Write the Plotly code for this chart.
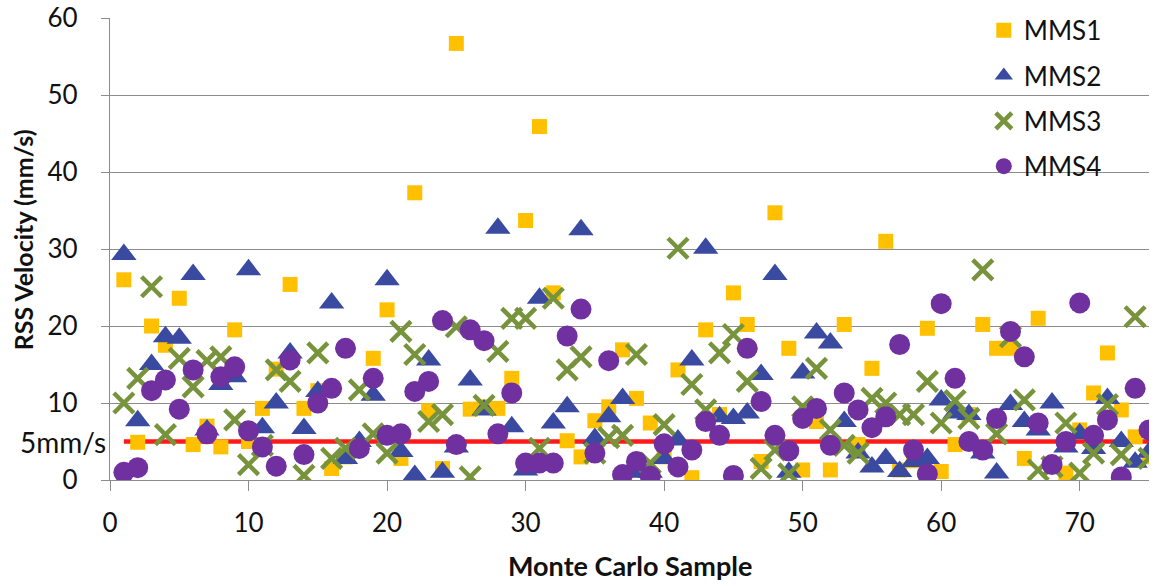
import plotly.graph_objects as go

samples = list(range(1, 76))

mms1 = [26.0, 4.9, 20.0, 17.5, 23.6, 4.6, 7.0, 4.3, 19.5, 5.0,
        9.3, 14.4, 25.4, 9.3, 11.6, 1.5, 3.0, 4.5, 15.8, 22.1,
        2.8, 37.3, 9.0, 1.5, 56.7, 9.2, 9.5, 9.3, 13.2, 33.7,
        45.9, 24.3, 5.1, 3.0, 7.7, 9.5, 16.9, 10.6, 7.4, 3.0,
        14.3, 0.3, 19.5, 8.5, 24.3, 20.2, 2.4, 34.7, 17.1, 1.3,
        7.6, 1.3, 20.2, 4.6, 14.5, 31.0, 1.3, 2.5, 19.7, 1.1,
        4.6, 8.5, 20.2, 17.1, 17.1, 2.8, 21.0, 2.0, 0.9, 6.5,
        11.3, 16.5, 9.1, 5.6, 3.0]

mms2 = [29.3, 7.7, 15.0, 18.6, 18.4, 26.7, 6.5, 12.4, 13.4, 27.3,
        6.8, 10.0, 16.5, 6.7, 11.5, 23.0, 2.8, 5.0, 11.0, 26.0,
        3.7, 0.6, 15.6, 1.0, 4.3, 13.0, 9.1, 32.7, 6.9, 1.3,
        23.6, 7.4, 9.5, 32.5, 5.4, 8.2, 10.6, 1.0, 1.0, 2.8,
        5.2, 15.6, 30.1, 8.2, 8.0, 8.7, 13.7, 26.7, 1.0, 13.9,
        19.1, 17.8, 7.6, 3.5, 1.7, 2.8, 1.1, 2.4, 2.8, 10.4,
        8.7, 8.5, 3.5, 0.9, 9.8, 7.6, 6.5, 10.0, 4.3, 6.0,
        4.1, 10.6, 5.0, 2.3, 3.6]

mms3 = [10.0, 13.2, 25.1, 5.9, 15.8, 12.1, 15.5, 16.0, 7.8, 2.0,
        4.5, 14.3, 12.8, 0.6, 16.5, 2.8, 4.1, 11.7, 6.0, 3.5,
        19.3, 16.3, 7.6, 8.5, 19.9, 0.4, 9.7, 16.7, 21.0, 21.0,
        4.1, 23.6, 14.3, 16.0, 3.5, 5.5, 5.8, 16.3, 2.2, 7.2,
        30.1, 12.4, 9.1, 16.5, 18.9, 12.8, 1.5, 3.9, 0.8, 9.5,
        14.5, 6.5, 4.5, 3.5, 10.6, 10.0, 8.5, 8.5, 12.8, 7.4,
        10.3, 8.0, 27.3, 6.0, 18.6, 10.4, 1.3, 1.7, 7.4, 0.9,
        3.5, 9.8, 3.3, 21.2, 2.8]

mms4 = [1.0, 1.6, 11.6, 13.0, 9.2, 14.3, 6.0, 13.4, 14.7, 6.4,
        4.3, 1.8, 15.6, 3.3, 10.0, 11.9, 17.1, 4.1, 13.2, 5.8,
        6.0, 11.5, 12.8, 20.7, 4.6, 19.5, 18.1, 6.0, 11.3, 2.2,
        2.2, 2.2, 18.7, 22.2, 3.5, 15.5, 0.7, 2.4, 0.5, 4.7,
        1.7, 3.9, 7.6, 5.8, 0.6, 17.1, 10.2, 5.8, 3.8, 8.0,
        9.3, 4.5, 11.3, 9.1, 6.8, 8.2, 17.6, 3.9, 0.8, 22.9,
        13.2, 5.0, 3.9, 8.0, 19.3, 16.0, 7.4, 2.0, 5.0, 23.0,
        5.8, 7.8, 0.4, 11.9, 6.5]

threshold_x = [1, 75]
threshold_y = [5, 5]

FONT = "Lato"
GRID = "#8c8c8c"
TXT = "#111111"

fig = go.Figure()

fig.add_trace(go.Scatter(x=threshold_x, y=threshold_y, mode="lines",
                         line=dict(color="#ff1a1a", width=4.5),
                         showlegend=False, hoverinfo="skip"))

fig.add_trace(go.Scatter(x=samples, y=mms1, mode="markers", name="MMS1",
                         legendgroup="a",
                         marker=dict(symbol="square", size=15, color="#FFC000")))
fig.add_trace(go.Scatter(x=samples, y=mms2, mode="markers", name="MMS2",
                         legendgroup="b",
                         marker=dict(symbol="triangle-up", size=22, color="#3A4AA0")))
fig.add_trace(go.Scatter(x=samples, y=mms3, mode="markers", name="MMS3",
                         legendgroup="c",
                         marker=dict(symbol="x-thin-open", size=20, color="#77933C",
                                     line=dict(color="#77933C", width=4.5))))
fig.add_trace(go.Scatter(x=samples, y=mms4, mode="markers", name="MMS4",
                         legendgroup="d",
                         marker=dict(symbol="circle", size=21, color="#7030A0")))

fig.add_annotation(x=0, xref="paper", y=5, yref="y", xanchor="right", yanchor="middle",
                   xshift=-2, text="5mm/s", showarrow=False,
                   font=dict(family=FONT, size=28, color=TXT))
fig.add_annotation(x=-0.0837, xref="paper", y=0.519, yref="paper",
                   xanchor="center", yanchor="middle", textangle=-90,
                   text="<b>RSS Velocity (mm/s)</b>", showarrow=False,
                   font=dict(family=FONT, size=25, color=TXT))
fig.add_annotation(x=0.5, xref="paper", y=-0.186, yref="paper",
                   xanchor="center", yanchor="middle",
                   text="<b>Monte Carlo Sample</b>", showarrow=False,
                   font=dict(family=FONT, size=27, color=TXT))

fig.update_layout(
    width=1159, height=586,
    margin=dict(l=110, r=10, t=18, b=106, autoexpand=False),
    paper_bgcolor="white", plot_bgcolor="white",
    font=dict(family=FONT, size=26, color=TXT),
    legend=dict(x=0.841, y=1.024, xanchor="left", yanchor="top",
                bgcolor="rgba(0,0,0,0)", font=dict(size=26),
                tracegroupgap=8.5, traceorder="grouped", itemwidth=30),
    xaxis=dict(range=[0, 75], dtick=10, tick0=0, showgrid=False,
               showline=True, linecolor=GRID, linewidth=1.3,
               ticks="outside", ticklen=10, tickcolor=GRID, tickwidth=1.3,
               ticklabelstandoff=10, zeroline=False, automargin=False,
               ticklabeloverflow="allow"),
    yaxis=dict(range=[0, 60], dtick=10, tick0=0, showgrid=True,
               gridcolor=GRID, gridwidth=1.3,
               showline=True, linecolor=GRID, linewidth=1.3,
               ticks="outside", ticklen=8, tickcolor=GRID, tickwidth=1.3,
               ticklabelstandoff=18, zeroline=False, automargin=False,
               ticklabeloverflow="allow"),
)

# remove the default 8px page margin so the figure fills the window exactly
fig.write_html("out.html",
               config={"displayModeBar": False},
               post_script="document.body.style.margin='0px';document.body.style.overflow='hidden';")
